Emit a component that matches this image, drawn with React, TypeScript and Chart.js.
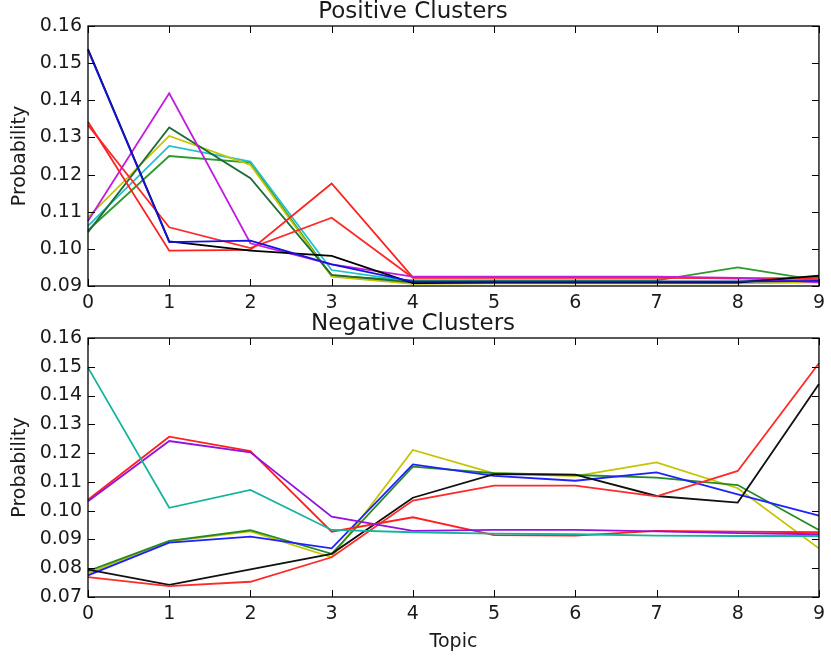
import React, { useEffect, useRef } from "react";
import { Chart, registerables } from "chart.js";

Chart.register(...registerables);

const topics = ["0", "1", "2", "3", "4", "5", "6", "7", "8", "9"];

// Positive clusters
const posBlue = [0.1535, 0.1018, 0.1022, 0.0958, 0.0912, 0.0912, 0.0912, 0.0912, 0.0912, 0.0914];
const posBlack = [0.1538, 0.102, 0.0995, 0.0981, 0.0908, 0.0909, 0.0909, 0.0909, 0.0909, 0.0928];
const posMagenta = [0.1075, 0.1419, 0.1015, 0.0958, 0.0925, 0.0925, 0.0925, 0.0925, 0.0922, 0.091];
const posRedA = [0.1342, 0.0995, 0.0997, 0.1176, 0.0923, 0.0923, 0.0923, 0.0923, 0.092, 0.0922];
const posRedB = [0.1333, 0.1058, 0.1002, 0.1084, 0.0922, 0.0922, 0.0922, 0.0922, 0.0922, 0.0918];
const posDarkGreen = [0.1045, 0.1327, 0.119, 0.093, 0.091, 0.0912, 0.0912, 0.0912, 0.0912, 0.0925];
const posYellow = [0.1085, 0.1304, 0.1226, 0.0925, 0.0906, 0.0907, 0.0907, 0.0907, 0.0907, 0.091];
const posCyan = [0.1062, 0.1277, 0.1235, 0.0943, 0.0912, 0.0912, 0.0912, 0.0912, 0.0912, 0.0912];
const posGreen = [0.105, 0.125, 0.1232, 0.0927, 0.0915, 0.0915, 0.0915, 0.0915, 0.095, 0.0915];

// Negative clusters
const negTeal = [0.1497, 0.101, 0.1072, 0.0933, 0.0925, 0.092, 0.0918, 0.0913, 0.0912, 0.0912];
const negPurple = [0.1033, 0.1242, 0.1203, 0.0979, 0.093, 0.0933, 0.0933, 0.0928, 0.0922, 0.0918];
const negRedB = [0.1038, 0.1257, 0.1207, 0.0927, 0.0977, 0.0915, 0.0913, 0.093, 0.0927, 0.0925];
const negRedC = [0.0769, 0.0738, 0.0753, 0.0838, 0.1035, 0.1087, 0.1087, 0.105, 0.1138, 0.1512];
const negBlack = [0.0795, 0.0742, 0.0796, 0.085, 0.1045, 0.1127, 0.1125, 0.1051, 0.1028, 0.144];
const negBlue = [0.0775, 0.0889, 0.091, 0.0869, 0.1161, 0.1121, 0.1104, 0.1133, 0.1057, 0.0983];
const negGreen = [0.079, 0.0895, 0.0932, 0.085, 0.1153, 0.113, 0.1124, 0.1115, 0.1089, 0.0933];
const negYellow = [0.0782, 0.0893, 0.0928, 0.0838, 0.1211, 0.113, 0.112, 0.1168, 0.1078, 0.0869];

const FONT = "'DejaVu Sans', 'Liberation Sans', sans-serif";
const TEXT = "#1a1a1a";

const frameTicks = {
  id: "frameTicks",
  afterDatasetsDraw(chart: any) {
    const { ctx, chartArea: a, scales } = chart;
    const L = 7;
    ctx.save();
    ctx.strokeStyle = "#000";
    ctx.lineWidth = 1;
    scales.y.ticks.forEach((t: any) => {
      const y = Math.round(scales.y.getPixelForValue(t.value)) + 0.5;
      ctx.beginPath();
      ctx.moveTo(a.left, y);
      ctx.lineTo(a.left + L, y);
      ctx.moveTo(a.right, y);
      ctx.lineTo(a.right - L, y);
      ctx.stroke();
    });
    scales.x.ticks.forEach((_t: any, i: number) => {
      const x = Math.round(scales.x.getPixelForTick(i)) + 0.5;
      ctx.beginPath();
      ctx.moveTo(x, a.bottom);
      ctx.lineTo(x, a.bottom - L);
      ctx.moveTo(x, a.top);
      ctx.lineTo(x, a.top + L);
      ctx.stroke();
    });
    ctx.lineWidth = 1.3;
    ctx.strokeRect(a.left, a.top, a.right - a.left, a.bottom - a.top);
    ctx.restore();
  },
};

function ds(data: number[], color: string) {
  return {
    data,
    borderColor: color,
    backgroundColor: color,
    borderWidth: 1.8,
    pointRadius: 0,
    tension: 0,
    fill: false,
  };
}

function makeConfig(
  title: string,
  datasets: any[],
  yMin: number,
  xAxisHeight: number,
  showXTitle: boolean
) {
  return {
    type: "line" as const,
    data: { labels: topics, datasets },
    plugins: [frameTicks],
    options: {
      animation: false,
      responsive: false,
      devicePixelRatio: 1,
      layout: { padding: { left: 0, right: 5, top: 0, bottom: 0 }, autoPadding: false },
      plugins: {
        legend: { display: false },
        tooltip: { enabled: false },
        title: {
          display: true,
          text: title,
          color: TEXT,
          font: { family: FONT, size: 23, weight: "normal", lineHeight: 1 },
          padding: { top: 1, bottom: 2 },
        },
      },
      scales: {
        x: {
          type: "category",
          offset: false,
          grid: { display: false, drawTicks: false },
          border: { display: false },
          ticks: { color: TEXT, font: { family: FONT, size: 19 }, padding: 6, maxRotation: 0, autoSkip: false },
          title: {
            display: showXTitle,
            text: "Topic",
            color: TEXT,
            font: { family: FONT, size: 19 },
            padding: { top: 0, bottom: 7 },
          },
          afterFit: (s: any) => {
            s.height = xAxisHeight;
          },
        },
        y: {
          min: yMin,
          max: 0.16,
          grid: { display: false, drawTicks: false },
          border: { display: false },
          ticks: {
            stepSize: 0.01,
            color: TEXT,
            font: { family: FONT, size: 19 },
            padding: 6,
            callback: (v: any) => Number(v).toFixed(2),
          },
          title: {
            display: true,
            text: "Probability",
            color: TEXT,
            font: { family: FONT, size: 19 },
            padding: { top: 9, bottom: 0 },
          },
          afterFit: (s: any) => {
            s.width = 88;
          },
        },
      },
    },
  };
}

export default function App() {
  const topRef = useRef<HTMLCanvasElement>(null);
  const botRef = useRef<HTMLCanvasElement>(null);

  useEffect(() => {
    const posSets = [
      ds(posBlue, "#1414e0"),
      ds(posBlack, "#000000"),
      ds(posMagenta, "#c21ce0"),
      ds(posRedA, "#ff2020"),
      ds(posRedB, "#ff2a2a"),
      ds(posDarkGreen, "#1e6b35"),
      ds(posYellow, "#c4c400"),
      ds(posCyan, "#20c0cc"),
      ds(posGreen, "#2c9a2c"),
    ];
    const negSets = [
      ds(negTeal, "#14b49c"),
      ds(negPurple, "#9412e0"),
      ds(negRedB, "#ff2020"),
      ds(negRedC, "#ff2a2a"),
      ds(negBlack, "#111111"),
      ds(negBlue, "#2020ff"),
      ds(negGreen, "#228b22"),
      ds(negYellow, "#c4c400"),
    ];
    const c1 = new Chart(topRef.current as HTMLCanvasElement, makeConfig("Positive Clusters", posSets, 0.09, 26, false) as any);
    const c2 = new Chart(botRef.current as HTMLCanvasElement, makeConfig("Negative Clusters", negSets, 0.07, 63, true) as any);
    return () => {
      c1.destroy();
      c2.destroy();
    };
  }, []);

  return (
    <div style={{ position: "absolute", left: 0, top: 0, width: 831, height: 660, background: "#fff" }}>
      <canvas ref={topRef} width={831} height={312} style={{ position: "absolute", left: 0, top: 0, width: 831, height: 312 }} />
      <canvas ref={botRef} width={831} height={348} style={{ position: "absolute", left: 0, top: 312, width: 831, height: 348 }} />
    </div>
  );
}
